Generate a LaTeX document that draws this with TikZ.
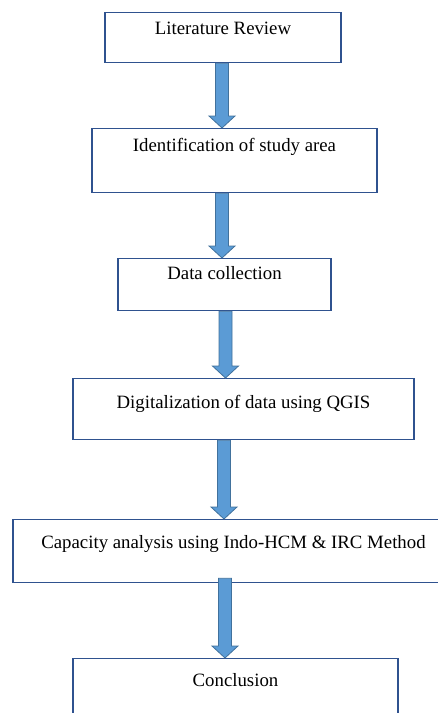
\documentclass[tikz,border=0pt]{standalone}
\usepackage{fontspec}
\setmainfont{Liberation Serif}
\usetikzlibrary{calc}

\definecolor{boxline}{RGB}{47,82,143}
\definecolor{arrowfill}{RGB}{91,155,213}
\definecolor{arrowline}{RGB}{65,113,156}

\tikzset{every picture/.style={line width=1pt}}
\tikzset{
  stage/.style={draw=boxline, line width=1.3pt, fill=white, anchor=north,
    inner xsep=0pt, inner ysep=0pt, font=\fontsize{18.8}{22}\selectfont},
  flowarrow/.style={draw=arrowline, fill=arrowfill, line width=0.8pt,
    to path={let \p1=(\tikztostart), \p2=(\tikztotarget) in
      (\x1-6.5pt,\y1) -- (\x1-6.5pt,\y2-12pt) -- (\x1-13pt,\y2-12pt) -- (\x1,\y2)
      -- (\x1+13pt,\y2-12pt) -- (\x1+6.5pt,\y2-12pt) -- (\x1+6.5pt,\y1) -- cycle}}
}

\begin{document}
\begin{tikzpicture}[x=1pt,y=1pt,yscale=-1,xscale=1]
		\useasboundingbox (0,0) rectangle (438,713);
		\clip (0,0) rectangle (438,713);
		
		%Stages
		\node [stage, minimum width=236, text height=22, text depth=28] (lit) at (223,12) {Literature Review};
		\node [stage, minimum width=285, text height=23, text depth=41] (ident) at (234.5,128) {Identification of study area};
		\node [stage, minimum width=213, text height=21, text depth=31] (data) at (224.5,258) {Data collection};
		\node [stage, minimum width=341, text height=30, text depth=31] (digit) at (243.5,378) {Digitalization of data using QGIS};
		\node [stage, minimum width=441, text height=29, text depth=34] (cap) at (233.5,519) {Capacity analysis using Indo-HCM \& IRC Method};
		\node [stage, minimum width=325, text height=28, text depth=44] (concl) at (235.5,658) {Conclusion};
		
		%Arrows
		\draw [flowarrow] ([xshift=-1]lit.south) to (ident.north);
		\draw [flowarrow] ([xshift=-12.5]ident.south) to (data.north);
		\draw [flowarrow] ([xshift=1]data.south) to (digit.north);
		\draw [flowarrow] ([xshift=-19.5]digit.south) to (cap.north);
		\draw [flowarrow] ([xshift=-8.5,yshift=-5]cap.south) to (concl.north);
		
	\end{tikzpicture}
\end{document}
